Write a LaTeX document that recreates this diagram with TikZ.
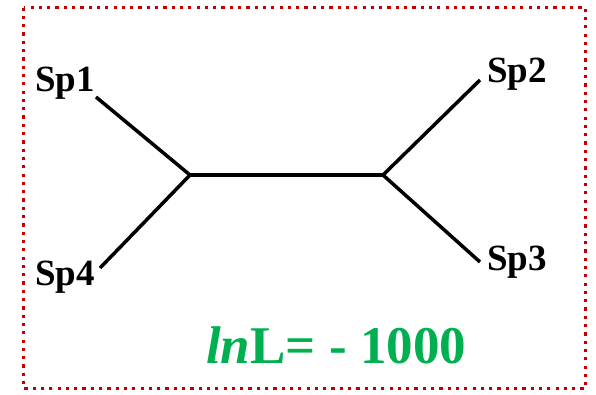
\documentclass[tikz,border=0pt]{standalone}
\usepackage{fontspec}
\setmainfont{Liberation Serif}
\definecolor{bordred}{HTML}{C00000}
\definecolor{lgreen}{HTML}{00B050}
\begin{document}
\begin{tikzpicture}[x=1pt,y=-1pt,
  branch/.style={line width=3.5pt,black},
  splabel/.style={anchor=base west,inner sep=0pt,font=\fontsize{37}{37}\selectfont\bfseries},
  frame/.style={draw=bordred,line width=3.2pt,dash pattern=on 3.2pt off 5.1pt}]
\useasboundingbox (0,0) rectangle (596,394);
\draw[frame] (23.5,7.5) rectangle (585.5,388.5);
\coordinate (L) at (190,175);
\coordinate (R) at (383,175);
\coordinate (e1) at (96,97);
\coordinate (e4) at (100,268);
\coordinate (e2) at (480,80);
\coordinate (e3) at (480,262);
\node[splabel] (sp1) at (35,91) {Sp1};
\node[splabel] (sp4) at (35,285) {Sp4};
\node[splabel] (sp2) at (487,82) {Sp2};
\node[splabel] (sp3) at (487,270) {Sp3};
\draw[branch] (e1) -- (L) -- (e4);
\draw[branch] (L) -- (R);
\draw[branch] (e2) -- (R) -- (e3);
\node[anchor=base west,inner sep=0pt,text=lgreen,font=\fontsize{53}{53}\selectfont\bfseries] (lnl) at (206,363) {\textit{ln}L= - 1000};
\end{tikzpicture}
\end{document}
